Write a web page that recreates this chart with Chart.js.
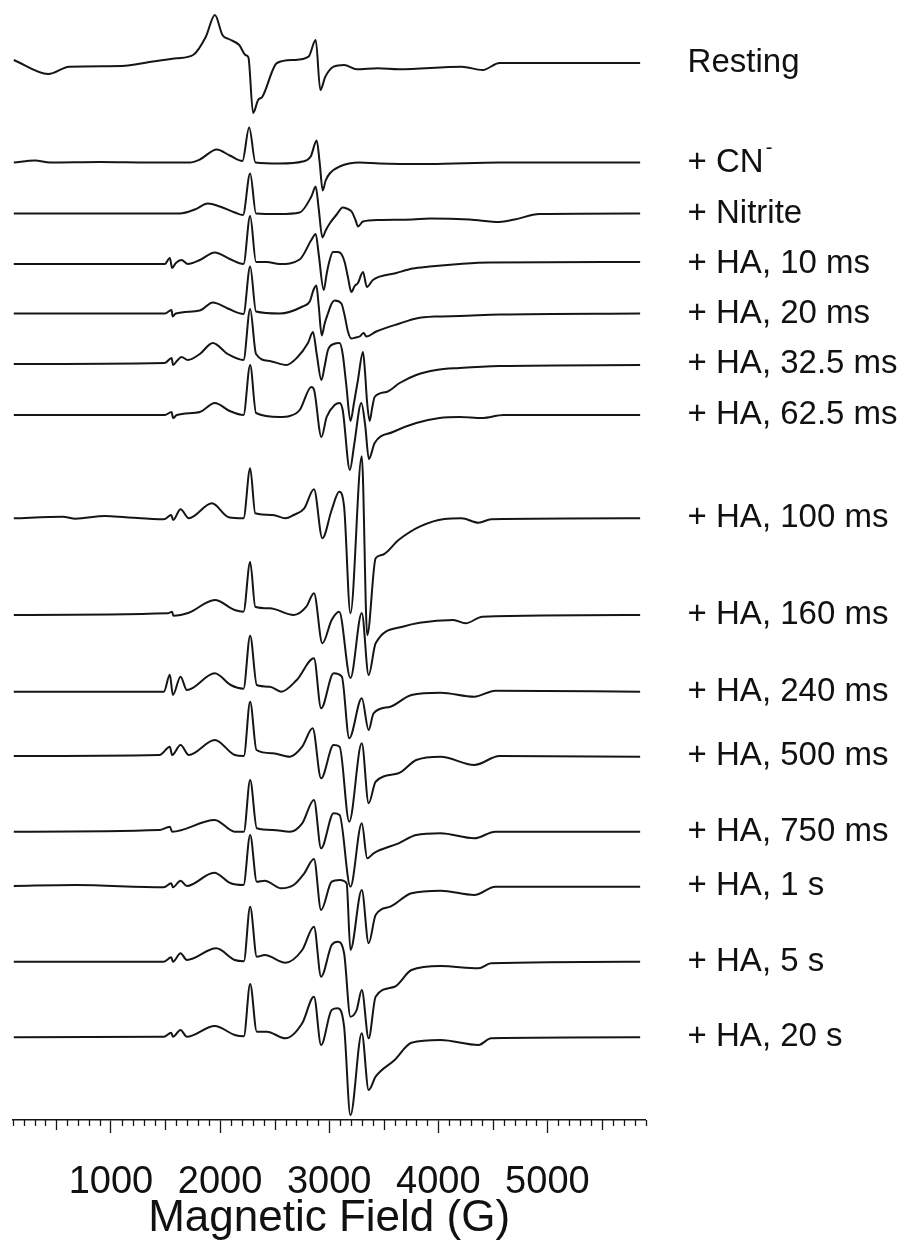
<!DOCTYPE html>
<html>
<head>
<meta charset="utf-8">
<title>EPR spectra – Magnetic Field (G)</title>
<script src="https://cdn.jsdelivr.net/npm/chart.js@4.4.1/dist/chart.umd.min.js"></script>
<style>
  html, body { margin: 0; padding: 0; background: #fff; }
  canvas { display: block; }
</style>
</head>
<body>
<canvas id="epr" width="907" height="1245"></canvas>
<script>
// Field axis (G)
const fieldMin = 100;
const fieldMax = 5900;
const fieldStep = 100;
const labelledFields = [1000, 2000, 3000, 4000, 5000];

// Spectrum names, top to bottom
const traceLabels = [
  'Resting', '+ CN⁻', '+ Nitrite', '+ HA, 10 ms', '+ HA, 20 ms', '+ HA, 32.5 ms',
  '+ HA, 62.5 ms', '+ HA, 100 ms', '+ HA, 160 ms', '+ HA, 240 ms', '+ HA, 500 ms',
  '+ HA, 750 ms', '+ HA, 1 s', '+ HA, 5 s', '+ HA, 20 s'
];

// Vertical stacking offset of each spectrum (arbitrary intensity units)
const traceOffsets = [1057, 957.5, 906.5, 856, 806.5, 756, 705, 601.7, 505, 428.3, 364, 288.3, 234, 158.3, 82.7];

// Each spectrum: [field (G), signal (arb. units)]
const resting = [
  [110, 3], [426, -11], [618, -3.7], [1099, -3], [1369, 1.3], [1600, 4.7], [1753, 8], [1869, 26],
  [1953, 48], [2022, 28], [2080, 24], [2176, 18], [2234, 8], [2260, 5.7], [2303, -50], [2349, -37],
  [2388, -33.7], [2522, 0], [2676, 3], [2811, 6.3], [2877, 23], [2919, -27], [2965, -13.7],
  [3041, -3.7], [3137, -2], [3253, -6.3], [3446, -5.3], [3638, -6.3], [4215, -3.7], [4407, -7],
  [4561, 0], [5850, 0]
];
const cyanide = [
  [110, 0], [304, 2], [441, 0], [900, 0.5], [1357, 0], [1723, 0], [1815, 3], [1970, 13], [2089, 7],
  [2205, 1.5], [2267, 35], [2325, 0], [2547, -1], [2757, 1], [2831, 6], [2886, 22], [2913, 0],
  [2941, -28], [2968, -18], [3005, -11], [3096, -4], [3279, 0], [3462, -1], [3920, -1.5], [4561, 0], [5850, 0]
];
const nitrite = [
  [110, 0], [1632, 0], [1769, 4], [1888, 10], [1998, 7], [2135, 1], [2210, -1.5], [2276, 40], [2330, 0],
  [2547, -0.5], [2730, 1], [2837, 17], [2877, 27], [2904, 5], [2938, -24], [2968, -17], [3005, -10],
  [3069, -1], [3124, 6], [3160, 5], [3206, 2], [3243, -7], [3264, -13], [3310, -8], [3462, -6.5],
  [3764, -6], [3920, -5], [4286, -6], [4561, -8.5], [4700, -6], [4927, -0.5], [5850, 0]
];
const ha10ms = [
  [110, 0], [1000, 0], [1494, 0], [1540, 6], [1561, -4], [1595, 1], [1647, 4], [1705, 0], [1815, 4],
  [1952, 11.5], [2089, 5], [2215, 0], [2276, 48], [2330, 2], [2428, 2], [2547, 0], [2730, 4.5],
  [2837, 24], [2877, 30], [2904, 10], [2950, -26], [2977, -10], [2998, 1], [3035, 12], [3078, 12],
  [3112, 10], [3142, 2], [3172, -13], [3203, -28], [3234, -22], [3264, -19], [3310, -8], [3346, -23],
  [3401, -16], [3616, -9], [3764, -4.5], [3920, -2.5], [4195, 0], [4470, 1.5], [5850, 2]
];
const ha20ms = [
  [110, 0], [1494, 0], [1556, 3.5], [1565, -3], [1595, 0], [1815, 3], [1934, 11], [2071, 5],
  [2215, -0.5], [2276, 47], [2330, 2], [2547, 0], [2757, 7], [2822, 12], [2858, 24], [2883, 28],
  [2904, 8], [2932, -22], [2959, -10], [2989, 0], [3023, 10], [3050, 13], [3112, 10], [3142, -2],
  [3172, -18], [3203, -25], [3243, -24], [3279, -23], [3316, -19.5], [3341, -23], [3432, -18],
  [3646, -10], [3798, -5], [3981, -3], [4195, -2.5], [4561, -1], [5850, 0]
];
const ha32ms = [
  [110, 0], [1494, 1], [1556, 6], [1570, -1], [1604, 3], [1647, 7], [1705, 4], [1815, 10], [1934, 21],
  [2071, 10], [2215, 4], [2276, 55], [2330, 10], [2455, 3], [2608, -1], [2703, 6], [2806, 21],
  [2852, 32], [2886, 10], [2929, -16], [2959, -2], [2989, 14], [3041, 20], [3096, 21], [3124, 10],
  [3158, -22], [3195, -57], [3229, -38], [3264, -16], [3310, 12], [3330, -10], [3346, -36], [3371, -57],
  [3394, -44], [3417, -33], [3524, -28], [3646, -19], [3798, -11], [3981, -6], [4195, -4], [4561, -2], [5850, -1]
];
const ha62ms = [
  [110, 0], [1494, 0], [1556, 3], [1570, -3], [1604, 0], [1815, 3], [1952, 12], [2089, 4], [2215, 0],
  [2276, 50], [2330, 2], [2547, -2], [2639, -1], [2730, 5], [2837, 28], [2862, 25], [2929, -22],
  [2977, -2], [3050, 10], [3096, 12], [3124, 5], [3190, -55], [3229, -30], [3295, 12], [3330, -10],
  [3364, -44], [3417, -28], [3584, -17], [3798, -8], [4012, -3], [4195, -2], [4400, -3], [4600, 0], [5850, 0]
];
const ha100ms = [
  [110, 0], [560, 1.6], [676, -0.4], [945, 2.3], [1137, 1], [1485, -1], [1553, 3.3], [1570, -1.7],
  [1638, 9], [1714, 0], [1926, 15], [2080, 1], [2215, 0], [2276, 50], [2323, 5], [2483, 3.3],
  [2599, 0], [2675, 3.3], [2772, 10], [2861, 29], [2938, -20], [3023, 8.3], [3092, 26.6], [3137, 11.6],
  [3195, -95], [3299, 62], [3349, -117], [3426, -40], [3484, -36.7], [3636, -21.7], [3829, -8.4],
  [4057, -0.7], [4213, 0], [4369, -4.4], [4484, -1], [5850, 0]
];
const ha160ms = [
  [110, 0], [1522, 1.7], [1561, 3.3], [1572, -0.7], [1714, 2.3], [1952, 15], [2135, 5], [2215, 3.3],
  [2276, 53], [2323, 8.3], [2455, 6.7], [2675, 0], [2791, 8.3], [2861, 21.7], [2938, -28.3], [3023, -5],
  [3092, 3.3], [3195, -63], [3299, 2], [3362, -60], [3426, -28.3], [3673, -11.7], [3829, -7.7],
  [4138, -5], [4250, -8.3], [4405, -1.7], [5850, 0]
];
const ha240ms = [
  [110, 0], [1485, 0], [1540, 17], [1568, -3.3], [1638, 15], [1696, 1.7], [1952, 18.4], [2098, 6.7],
  [2215, 3], [2276, 56], [2337, 6.7], [2455, 5], [2561, 0], [2703, 11.7], [2861, 33.4], [2926, -16.6],
  [3041, 18.4], [3116, 15], [3184, -46.6], [3299, -6.6], [3362, -38.3], [3407, -21.6], [3561, -15],
  [3754, -3.3], [4021, -1], [4330, -5], [4523, 1], [5850, 0]
];
const ha500ms = [
  [110, 0], [1446, 1], [1540, 9.3], [1561, 1], [1638, 11], [1714, 1], [1952, 16], [2135, 1], [2218, 0],
  [2276, 54.3], [2334, 6], [2483, 2.7], [2639, -0.7], [2753, 9.3], [2849, 27.7], [2926, -22.3],
  [3041, 11], [3096, 9.3], [3184, -65.7], [3299, 12.7], [3362, -47.3], [3426, -25.7], [3636, -17.3],
  [3798, -4], [4021, -0.7], [4330, -9], [4561, 0], [5850, -0.7]
];
const ha750ms = [
  [110, 0], [1446, 1.7], [1540, 5], [1561, 0], [1952, 11.7], [2135, 0], [2218, 0], [2276, 51.7], [2337, 3.4],
  [2483, 1.7], [2639, 0], [2753, 8.4], [2861, 31.7], [2926, -16.6], [3041, 18.4], [3096, 16.7],
  [3195, -55], [3299, 8.4], [3349, -26.6], [3407, -21.6], [3636, -11.6], [3798, -3.3], [4021, -1.6],
  [4330, -6.6], [4523, 0], [5850, 0]
];
const ha1s = [
  [110, 0], [676, 1], [1485, -1.3], [1553, 2.7], [1568, -1.3], [1638, 5.3], [1696, 0], [1946, 13.3],
  [2098, 2.7], [2215, 1], [2276, 51], [2337, 4.3], [2410, 5.3], [2561, -2.3], [2675, 1], [2772, 12.7],
  [2861, 27], [2926, -24], [3023, 4.3], [3096, 6], [3160, 2.7], [3195, -64], [3299, -4], [3362, -57.3],
  [3426, -29], [3561, -20.7], [3754, -7.3], [4021, -4.7], [4330, -9], [4523, -0.7], [5850, -0.7]
];
const ha5s = [
  [110, 0], [1485, 0], [1553, 4.4], [1568, 0], [1638, 8.4], [1696, 1.7], [1965, 13.4], [2135, 1.7], [2218, 0.5],
  [2276, 55], [2337, 5], [2410, 6.7], [2599, -1], [2753, 11.7], [2861, 35], [2926, -15], [3023, 16.7],
  [3078, 20], [3137, 8.4], [3195, -55], [3252, -48.3], [3299, -28.3], [3362, -76.6], [3426, -35],
  [3600, -25], [3754, -8.3], [4021, -4.3], [4369, -6.6], [4484, -1.6], [5850, 0]
];
const ha20s = [
  [110, 0], [1485, 0.6], [1553, 4.6], [1568, 0.6], [1638, 7.3], [1696, 0.6], [1952, 11.3], [2135, 2.3], [2218, 1],
  [2276, 53.3], [2337, 5.6], [2428, 5.6], [2599, -1], [2753, 14], [2861, 40.6], [2926, -7.7],
  [3023, 27.3], [3078, 29], [3137, 10.6], [3195, -78], [3299, 4], [3362, -52.7], [3426, -39.4],
  [3600, -22.7], [3754, -5.4], [4021, -2.7], [4369, -7.7], [4484, -1], [5850, 0]
];

const spectra = [resting, cyanide, nitrite, ha10ms, ha20ms, ha32ms, ha62ms, ha100ms,
                 ha160ms, ha240ms, ha500ms, ha750ms, ha1s, ha5s, ha20s];

const ink = '#151515';
const fontFamily = '"Liberation Sans", Arial, Helvetica, sans-serif';

// Shorter ticks every 100 G and medium ticks every 500 G
const minorTicks = {
  id: 'minorTicks',
  afterDraw(chart) {
    const xs = chart.scales.x;
    const ctx = chart.ctx;
    ctx.save();
    ctx.strokeStyle = ink;
    ctx.lineWidth = 1.3;
    xs.ticks.forEach(t => {
      if (t.value % 1000 === 0) return;
      const len = t.value % 500 === 0 ? 10 : 6;
      const px = Math.round(xs.getPixelForValue(t.value)) + 0.5;
      ctx.beginPath();
      ctx.moveTo(px, xs.top);
      ctx.lineTo(px, xs.top + len);
      ctx.stroke();
    });
    ctx.restore();
  }
};

// Spectrum names at the right of each baseline
const traceNames = {
  id: 'traceNames',
  afterDatasetsDraw(chart) {
    const { ctx, chartArea, scales: { y } } = chart;
    ctx.save();
    ctx.fillStyle = '#111';
    ctx.textAlign = 'left';
    ctx.textBaseline = 'middle';
    const x0 = chartArea.right + 42;
    traceLabels.forEach((label, i) => {
      const yy = y.getPixelForValue(traceOffsets[i]);
      ctx.font = '33px ' + fontFamily;
      if (label.endsWith('⁻')) {
        const base = label.slice(0, -1);
        ctx.fillText(base, x0, yy);
        const w = ctx.measureText(base).width;
        ctx.font = '20px ' + fontFamily;
        ctx.fillText('-', x0 + w + 2, yy - 14);
      } else {
        ctx.fillText(label, x0, yy);
      }
    });
    ctx.restore();
  }
};

new Chart(document.getElementById('epr'), {
  type: 'line',
  data: {
    datasets: spectra.map((s, i) => ({
      label: traceLabels[i],
      data: s.map(([g, v]) => ({ x: g, y: traceOffsets[i] + v })),
      borderColor: ink,
      borderWidth: 2,
      pointRadius: 0,
      fill: false,
      cubicInterpolationMode: 'monotone',
      clip: false
    }))
  },
  options: {
    responsive: false,
    animation: false,
    devicePixelRatio: 1,
    layout: { padding: { left: 12.7, right: 261.4, top: 0, bottom: 0 } },
    plugins: { legend: { display: false }, tooltip: { enabled: false } },
    scales: {
      x: {
        type: 'linear',
        min: fieldMin,
        max: fieldMax,
        afterFit(scale) {
          scale.height = 125;
          scale.paddingLeft = 0;
          scale.paddingRight = 0;
        },
        grid: {
          display: true,
          drawOnChartArea: false,
          drawTicks: true,
          tickLength: 13,
          tickWidth: 1.3,
          tickColor: ctx => (ctx.tick && ctx.tick.value % 1000 === 0) ? ink : 'rgba(0,0,0,0)'
        },
        border: { display: true, color: ink, width: 1.5 },
        ticks: {
          stepSize: fieldStep,
          autoSkip: false,
          maxTicksLimit: 200,
          maxRotation: 0,
          minRotation: 0,
          padding: 27,
          color: '#111',
          font: { family: fontFamily, size: 38 },
          callback: v => labelledFields.includes(v) ? String(v) : ''
        },
        title: {
          display: true,
          text: 'Magnetic Field (G)',
          color: '#111',
          padding: 0,
          font: { family: fontFamily, size: 44 }
        }
      },
      y: {
        type: 'linear',
        display: false,
        min: 0,
        max: 1120
      }
    }
  },
  plugins: [minorTicks, traceNames]
});
</script>
</body>
</html>
